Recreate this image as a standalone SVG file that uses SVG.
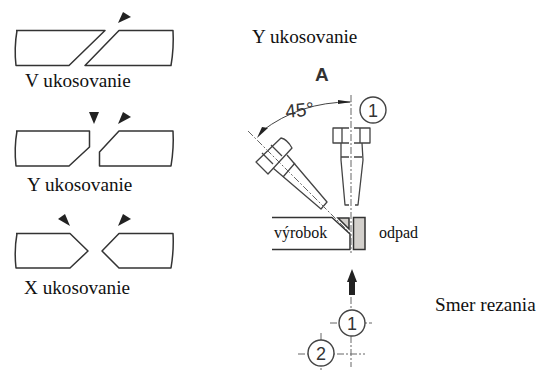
<svg xmlns="http://www.w3.org/2000/svg" width="537" height="371" viewBox="0 0 537 371">
<style>
.o{fill:none;stroke:#333;stroke-width:1.5;stroke-linejoin:round}
.t{fill:none;stroke:#444;stroke-width:1.3;stroke-linejoin:round}
.c{fill:none;stroke:#666;stroke-width:1;stroke-dasharray:7 2 2 2}
.a{fill:#222}
.s{font-family:"Liberation Serif",serif;font-size:19.200px;fill:#111}
.m{font-size:16px}
.h{font-family:"Liberation Sans",sans-serif;fill:#333}
.g{fill:#d3d0cc;stroke:#333;stroke-width:1.5}
</style>
<rect width="537" height="371" fill="#fff"/>
<g id="v-bevel">
<path class="o" d="M16 30.500H105L69 65.500H16Q14 48 17 30.500"/>
<path class="o" d="M119 30.500H173Q174 48 171 65.500H85Z"/>
<path class="a" d="M118 23L123 12L131 17Z"/>
<text class="s" x="25" y="87">V ukosovanie</text>
</g>
<g id="y-bevel">
<path class="o" d="M16 131H89.500V147L69 166H16Q14 148 17 131"/>
<path class="o" d="M119 131H173Q174 148 171 166H99.500V152Z"/>
<path class="a" d="M89 112H99L94 124Z"/>
<path class="a" d="M118 124L123 112L131 117Z"/>
<text class="s" x="27" y="191">Y ukosovanie</text>
</g>
<g id="x-bevel">
<path class="o" d="M16 233.500H70L88 251L70 268H16Q14 250 17 233.500"/>
<path class="o" d="M119 233.500H173Q174 250 171 268H119L102 251Z"/>
<path class="a" d="M58 219L65 214L70 226Z"/>
<path class="a" d="M118 226L123 214L131 219Z"/>
<text class="s" x="24" y="294">X ukosovanie</text>
</g>
<text id="title" class="s" x="252" y="43">Y ukosovanie</text>
<text id="label-a" class="h" x="315" y="81" font-size="19" font-weight="bold">A</text>
<g id="torch-vertical">
<path class="t" d="M349 128H333V143H349M354 128H370V143H354"/>
<path class="t" d="M341 143L341 160L345 205H349M362 143L363 160L358 205H355"/>
<path class="t" d="M342 128V143M360 128V143M341 157H349M354 157H362"/>
</g>
<g id="torch-angled">
<path class="t" d="M256 162L281 138Q287 139 292 148L268 174Z"/>
<path class="t" d="M273 168L321 209L327 202L287 155"/>
<path class="t" d="M283 177L295 163M262 153L273 164M271 145L282 156"/>
</g>
<g id="workpiece">
<path class="o" d="M272 217.500H332L350 234V249.500H272"/>
<path class="g" d="M338 218H349V229Z" stroke-width="1"/>
<rect class="g" x="353.500" y="217.500" width="11.500" height="32"/>
<text class="s m" x="274" y="238">výrobok</text>
<text class="s m" x="379" y="238">odpad</text>
</g>
<g id="connectors">
<path class="c" d="M351 95V253"/>
<path class="c" d="M248 131L350 233"/>
<path d="M262 131Q300 102 350 102" fill="none" stroke="#444" stroke-width="1"/>
<path class="a" d="M338 100L352 102L338 104Z"/>
<path class="a" d="M257 138L268 128L262 127Z"/>
<path class="c" d="M351 297V367"/>
<path class="c" d="M330 323H372"/>
<path class="c" d="M298 354H365"/>
<path class="c" d="M321 333V370"/>
<path d="M352 281V295" stroke="#222" stroke-width="6"/>
<path class="a" d="M347 282L352 269L357 282Z"/>
</g>
<text id="angle" class="h" x="286" y="118" font-size="19" transform="rotate(-6 286 118)">45°</text>
<g id="callout-1-top"><circle cx="373" cy="110" r="13" fill="#fff" stroke="#444" stroke-width="1.400"/><text class="h" x="373" y="117" font-size="18" text-anchor="middle">1</text></g>
<g id="callout-1"><circle cx="352" cy="323" r="13" fill="#fff" stroke="#444" stroke-width="1.400"/><text class="h" x="352" y="330" font-size="18" text-anchor="middle">1</text></g>
<g id="callout-2"><circle cx="321" cy="353" r="13" fill="#fff" stroke="#444" stroke-width="1.400"/><text class="h" x="321" y="360" font-size="18" text-anchor="middle">2</text></g>
<text id="direction" class="s" x="435" y="311">Smer rezania</text>
</svg>
